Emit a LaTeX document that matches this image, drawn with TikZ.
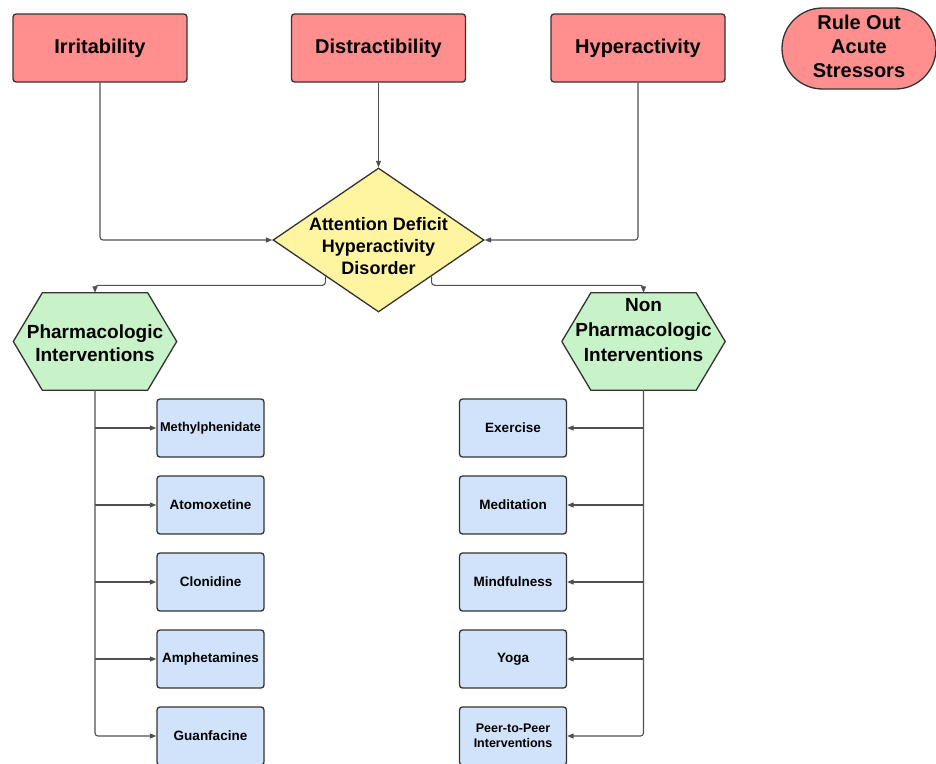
\documentclass[tikz,border=0pt]{standalone}
\usepackage{fontspec}
\setmainfont{Liberation Sans}
\usetikzlibrary{shapes.geometric,shapes.misc,arrows.meta}
\pgfdeclarelayer{bg}
\pgfsetlayers{bg,main}
\definecolor{redfill}{RGB}{255,143,143}
\definecolor{yelfill}{RGB}{255,245,160}
\definecolor{grnfill}{RGB}{200,242,200}
\definecolor{blufill}{RGB}{208,227,250}
\definecolor{edge}{RGB}{51,51,51}
\definecolor{wire}{RGB}{80,80,80}
\begin{document}
\begin{tikzpicture}[x=1pt,y=-1pt,
  redbox/.style={draw=edge, line width=1.3pt, fill=redfill, rounded corners=3pt,
    minimum width=174pt, minimum height=68pt, inner sep=0pt,
    font={\fontsize{20}{24}\selectfont\bfseries}},
  stadium/.style={rounded rectangle, draw=edge, line width=1.3pt, fill=redfill,
    minimum width=154pt, minimum height=81pt, inner sep=0pt},
  bluebox/.style={draw=edge, line width=1.3pt, fill=blufill, rounded corners=3pt,
    minimum width=107pt, minimum height=58pt, inner sep=0pt, align=center,
    font={\fontsize{13.5}{15}\selectfont\bfseries}},
  hexbox/.style={minimum width=163pt, minimum height=97pt, inner sep=0pt, align=center},
  hexfill/.style={draw=edge, line width=1.3pt, fill=grnfill, line join=round},
  hextext/.style={align=center, font={\fontsize{19}{23}\selectfont\bfseries}},
  conn/.style={draw=wire, line width=1.1pt, rounded corners=3pt},
  tip/.style={-{Triangle[length=6.5pt,width=5pt]}},
]
\useasboundingbox (0,0) rectangle (936,763);

% top row
\node[redbox] (irr) at (100,48) {Irritability};
\node[redbox] (dis) at (378.5,48) {Distractibility};
\node[redbox] (hyp) at (638,48) {Hyperactivity};
\node[stadium] (rule) at (859,48.5) {};
\node[align=center, font={\fontsize{20}{24}\selectfont\bfseries}] (ruletext)
  at (859,46.5) {Rule Out\\Acute\\Stressors};

% diamond
\node[diamond, draw=edge, line width=1.3pt, fill=yelfill, minimum width=211pt,
  minimum height=144pt, inner sep=0pt] (adhd) at (378.5,240) {};
\node[align=center, font={\fontsize{18}{22}\selectfont\bfseries}] (adhdtext)
  at (378.5,246) {Attention Deficit\\Hyperactivity\\Disorder};

% hexagons
\node[hexbox] (ph) at (95,341.5) {};
\node[hextext] (phtext) at (95,343) {Pharmacologic\\Interventions};
\node[hexbox] (nph) at (643.5,341.5) {};
\node[hextext, font={\fontsize{19}{25}\selectfont\bfseries}] (nphtext) at (643.5,330) {Non\\Pharmacologic\\Interventions};
\begin{pgfonlayer}{bg}
\foreach \h in {ph,nph}{
  \filldraw[hexfill] (\h.west) -- ([xshift=29pt]\h.north west) -- ([xshift=-29pt]\h.north east)
    -- (\h.east) -- ([xshift=-29pt]\h.south east) -- ([xshift=29pt]\h.south west) -- cycle;
}
\end{pgfonlayer}

% left boxes
\node[bluebox, font={\fontsize{12.8}{15}\selectfont\bfseries}] (meth) at (210.5,428) {Methylphenidate};
\node[bluebox] (atom) at (210.5,505) {Atomoxetine};
\node[bluebox] (clon) at (210.5,582) {Clonidine};
\node[bluebox] (amph) at (210.5,659) {Amphetamines};
\node[bluebox] (guan) at (210.5,736) {Guanfacine};

% right boxes
\node[bluebox] (exer) at (513,428) {Exercise};
\node[bluebox] (medi) at (513,505) {Meditation};
\node[bluebox] (mind) at (513,582) {Mindfulness};
\node[bluebox] (yoga) at (513,659) {Yoga};
\node[bluebox, font={\fontsize{12.5}{15}\selectfont\bfseries}] (peer) at (513,736) {Peer-to-Peer\\Interventions};

% connectors top
\draw[conn, tip] (irr.south) |- (adhd.west);
\draw[conn, tip] (dis.south) -- (adhd.north);
\draw[conn, tip] (hyp.south) |- (adhd.east);

% diamond to hexagons
\draw[conn, tip] (adhd.south west) -- ++(0,9) -| (ph.north);
\draw[conn, tip] (adhd.south east) -- ++(0,9) -| (nph.north);

% left branches
\draw[conn, tip] (ph.south) |- (guan.west);
\foreach \b in {meth,atom,clon,amph}{
  \draw[conn, tip] (ph.south |- \b.west) -- (\b.west);
}
% right branches
\draw[conn, tip] (nph.south) |- (peer.east);
\foreach \b in {exer,medi,mind,yoga}{
  \draw[conn, tip] (nph.south |- \b.east) -- (\b.east);
}
\end{tikzpicture}
\end{document}
